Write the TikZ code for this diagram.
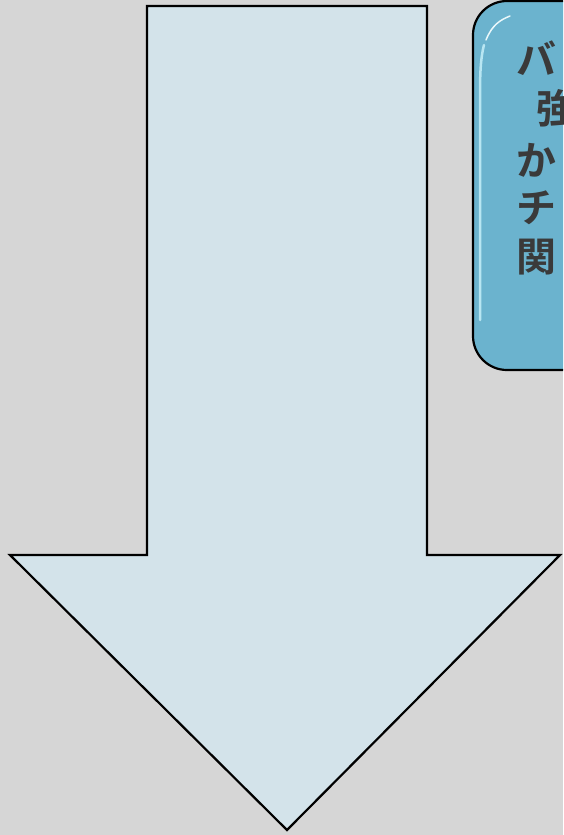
\documentclass[tikz,border=0pt]{standalone}
\usepackage{fontspec}
\newfontfamily\cjk[BoldFont={Noto Sans CJK JP Bold}]{Noto Sans CJK JP}
\definecolor{bgc}{HTML}{D6D6D6}
\definecolor{arrowfill}{HTML}{D3E3EA}
\definecolor{boxfill}{HTML}{6BB3CE}
\definecolor{boxhi}{HTML}{B8E6F2}
\definecolor{txt}{HTML}{3A3A3A}
\tikzset{
  boxtext/.style={anchor=west, inner sep=0pt, text=txt, font=\cjk\bfseries\fontsize{40}{40}\selectfont},
}
\begin{document}
\begin{tikzpicture}[x=1pt,y=-1pt]
\useasboundingbox (0,0) rectangle (563,835);
\clip (0,0) rectangle (563,835);
\fill[bgc] (0,0) rectangle (563,835);
% big arrow
\draw[fill=arrowfill, line width=2.2pt, line join=miter]
  (147,6) -- (427,6) -- (427,555) -- (560,555) -- (287,830) -- (10,555) -- (147,555) -- cycle;
% rounded box (cut off at right)
\draw[fill=boxfill, line width=2.2pt, rounded corners=34pt]
  (620,1) -- (473,1) -- (473,370) -- (620,370);
\draw[boxhi, line width=2.5pt, line cap=round] (484,45) .. controls (480,60) and (480,80) .. (480,100) -- (480,320);
\draw[white!70!boxhi, line width=1.5pt, line cap=round] (486,40) .. controls (492,25) and (500,20) .. (510,16);
% text
\node[boxtext] (t1) at (516,58) {バ};
\node[boxtext] (t2) at (536,108) {強};
\node[boxtext] (t3) at (516,160) {か};
\node[boxtext] (t4) at (516,208) {チ};
\node[boxtext] (t5) at (516,257) {関};
\end{tikzpicture}
\end{document}
